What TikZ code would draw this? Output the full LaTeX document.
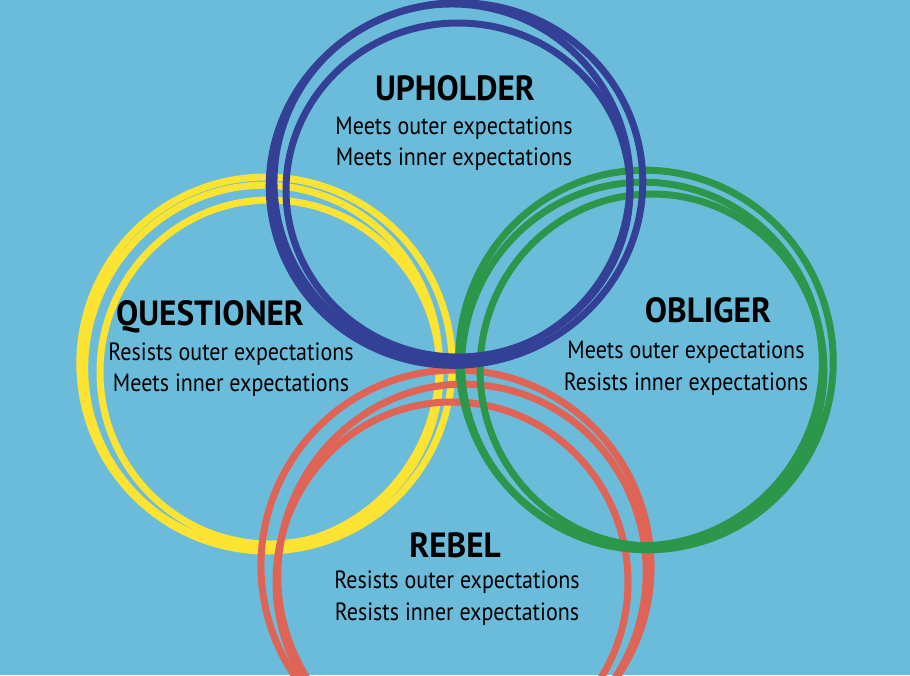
\documentclass[tikz,border=0pt]{standalone}
\usepackage{fontspec}
\setmainfont{PT Sans}
\newfontfamily\bodyfont[FakeStretch=0.88]{PT Sans}
\newfontfamily\titlefont[FakeStretch=0.95]{PT Sans}
\definecolor{bg}{RGB}{107,188,219}
\definecolor{ringblue}{RGB}{52,64,150}
\definecolor{ringyellow}{RGB}{253,228,50}
\definecolor{ringgreen}{RGB}{44,150,75}
\definecolor{ringred}{RGB}{224,100,85}
\tikzset{
  ring/.style={line width=7pt},
  titletext/.style={anchor=base, inner sep=0pt, font=\titlefont\bfseries\fontsize{35}{40}\selectfont, text=black},
  bodytext/.style={anchor=base, inner sep=0pt, font=\bodyfont\fontsize{25}{30}\selectfont, text=black},
}
\begin{document}
\begin{tikzpicture}[x=1pt,y=-1pt]
\fill[bg] (0,0) rectangle (910,675);
\useasboundingbox (0,0) rectangle (910,675);
% yellow
\draw[ring,ringyellow] (266,364) ellipse [x radius=186, y radius=187, rotate=20];
\draw[ring,ringyellow] (262,366) ellipse [x radius=177, y radius=181, rotate=-15];
\draw[ring,ringyellow] (270,372) ellipse [x radius=170, y radius=172];
% red
\draw[ring,ringred] (456,566) ellipse [x radius=195, y radius=196, rotate=10];
\draw[ring,ringred] (462,574) ellipse [x radius=184, y radius=190, rotate=-10];
\draw[ring,ringred] (452,582) ellipse [x radius=176, y radius=180];
% green
\draw[ring,ringgreen] (646,360) ellipse [x radius=187, y radius=190, rotate=15];
\draw[ring,ringgreen] (642,364) ellipse [x radius=180, y radius=182, rotate=-20];
\draw[ring,ringgreen] (652,370) ellipse [x radius=172, y radius=176];
% blue
\draw[ring,ringblue] (456,184) ellipse [x radius=187, y radius=181, rotate=12];
\draw[ring,ringblue] (452,182) ellipse [x radius=178, y radius=178, rotate=-10];
\draw[ring,ringblue] (458,190) ellipse [x radius=172, y radius=167];
% texts
\node[titletext] (upt) at (455,100) {UPHOLDER};
\node[bodytext] (up1) at (454,134) {Meets outer expectations};
\node[bodytext] (up2) at (454,165) {Meets inner expectations};
\node[titletext] (qut) at (210,325) {QUESTIONER};
\node[bodytext] (qu1) at (231,360) {Resists outer expectations};
\node[bodytext] (qu2) at (231,391) {Meets inner expectations};
\node[titletext] (obt) at (708,322) {OBLIGER};
\node[bodytext] (ob1) at (686,358) {Meets outer expectations};
\node[bodytext] (ob2) at (686,390) {Resists inner expectations};
\node[titletext] (ret) at (455,557) {REBEL};
\node[bodytext] (re1) at (457,588) {Resists outer expectations};
\node[bodytext] (re2) at (457,620) {Resists inner expectations};
\end{tikzpicture}
\end{document}
